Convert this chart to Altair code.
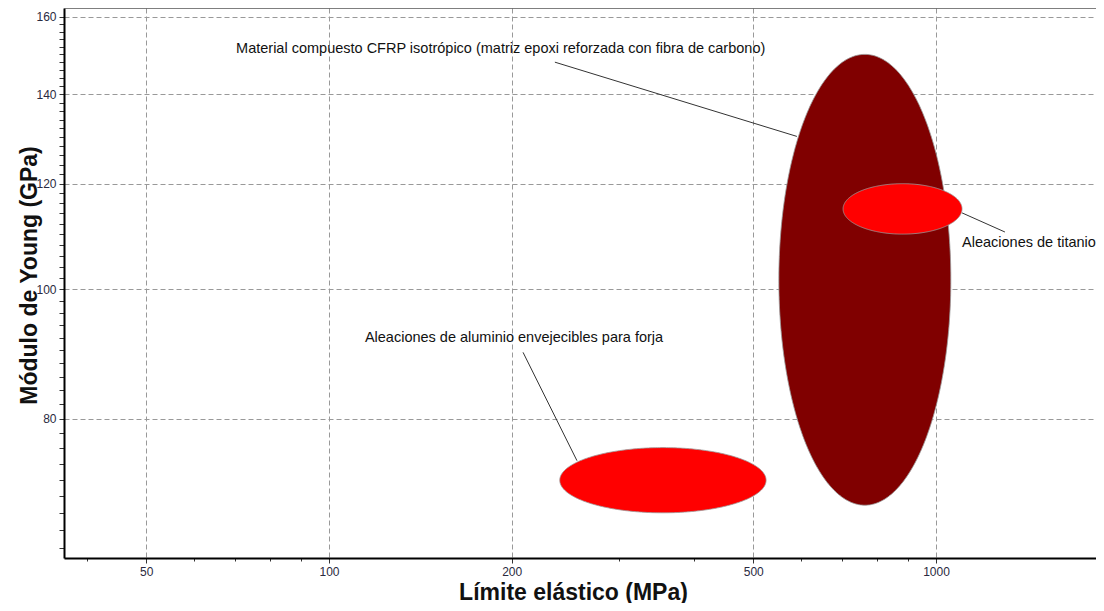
import altair as alt
import numpy as np
import pandas as pd

# --- data -------------------------------------------------------------
materials = [
    "Material compuesto CFRP isotrópico (matriz epoxi reforzada con fibra de carbono)",
    "Aleaciones de titanio",
    "Aleaciones de aluminio envejecibles para forja",
]
colors = ["#800000", "#ff0000", "#ff0000"]
# elastic limit range (MPa) and Young's modulus range (GPa)
x_min = [551, 703, 240]
x_max = [1058, 1104, 525]
y_min = [68.9, 110.0, 68.0]
y_max = [150.0, 120.0, 76.1]

# label anchor positions and leader lines (data coordinates)
label_x = [70.3, 1104, 114.6]
label_y = [151.4, 108.3, 92.0]
lead_x1 = [235.6, 1104, 208.8]
lead_y1 = [148.0, 114.1, 89.7]
lead_x2 = [590, 1299, 256.2]
lead_y2 = [130.2, 110.4, 74.4]

x_major = [50, 100, 200, 500, 1000]
x_minor = [40, 60, 70, 80, 90, 300, 400, 600, 700, 800, 900]
y_major = [80, 100, 120, 140, 160]
y_minor = [v for v in range(64, 162, 2) if v not in y_major]

X_DOMAIN = [36.6, 1835]
Y_DOMAIN = [62.9, 162.5]

# --- ellipse outlines in log space ----------------------------------
theta = np.linspace(np.pi, 0, 181)


def ellipse(i):
    cx = (np.log10(x_min[i]) + np.log10(x_max[i])) / 2
    rx = (np.log10(x_max[i]) - np.log10(x_min[i])) / 2
    cy = (np.log10(y_min[i]) + np.log10(y_max[i])) / 2
    ry = (np.log10(y_max[i]) - np.log10(y_min[i])) / 2
    return pd.DataFrame({
        "x": 10 ** (cx + rx * np.cos(theta)),
        "yhi": 10 ** (cy + ry * np.sin(theta)),
        "ylo": 10 ** (cy - ry * np.sin(theta)),
    })


labels = pd.DataFrame({"material": materials, "x": label_x, "y": label_y})
leads = pd.DataFrame({"x": lead_x1, "y": lead_y1, "x2": lead_x2, "y2": lead_y2})

xticks = sorted(x_major + x_minor)
yticks = sorted(y_major + y_minor)

xmaj = "indexof([50,100,200,500,1000], datum.value) >= 0"
ymaj = "indexof([80,100,120,140,160], datum.value) >= 0"

x_axis = alt.Axis(
    values=xticks,
    format="d",
    labelExpr=f"{xmaj} ? datum.label : ''",
    grid=True,
    gridDash=[5, 3],
    gridColor="#999999",
    gridOpacity={"condition": {"test": xmaj, "value": 1}, "value": 0},
    tickSize={"condition": {"test": xmaj, "value": 5}, "value": 3},
    tickColor="#333333",
    domainColor="#000000",
    domainWidth=2,
    labelFont="Liberation Sans",
    labelFontSize=12,
    labelColor="#2a2a40",
    labelPadding=3,
    title="Límite elástico (MPa)",
    titleFont="Liberation Sans",
    titleFontSize=23,
    titleFontWeight="bold",
    titleColor="#111111",
    titleX=509,
    titleY=41,
    titleBaseline="alphabetic",
)
y_axis = alt.Axis(
    values=yticks,
    format="d",
    labelExpr=f"{ymaj} ? datum.label : ''",
    grid=True,
    gridDash=[5, 3],
    gridColor="#999999",
    gridOpacity={"condition": {"test": ymaj, "value": 1}, "value": 0},
    tickSize=5,
    tickColor="#333333",
    domainColor="#000000",
    domainWidth=2,
    labelFont="Liberation Sans",
    labelFontSize=12,
    labelColor="#2a2a40",
    labelPadding=3,
    title="Módulo de Young (GPa)",
    titleFont="Liberation Sans",
    titleFontSize=23,
    titleFontWeight="bold",
    titleColor="#111111",
    titleX=-28,
    titleY=267,
    titleBaseline="alphabetic",
)

xs = alt.Scale(type="log", domain=X_DOMAIN, nice=False)
ys = alt.Scale(type="log", domain=Y_DOMAIN, nice=False)

layers = []
for i in range(len(materials)):
    layers.append(
        alt.Chart(ellipse(i))
        .mark_area(fill=colors[i], stroke="#9a9a9a", strokeWidth=0.8, opacity=1)
        .encode(
            x=alt.X("x:Q", scale=xs, axis=x_axis),
            y=alt.Y("yhi:Q", scale=ys, axis=y_axis, stack=None),
            y2="ylo:Q",
        )
    )

rules = alt.Chart(leads).mark_rule(color="#333333", strokeWidth=1).encode(
    x="x:Q", y="y:Q", x2="x2:Q", y2="y2:Q"
)

texts = alt.Chart(labels).mark_text(
    align="left", baseline="middle", font="Liberation Sans", fontSize=14.5, color="#111111"
).encode(x="x:Q", y="y:Q", text="material:N")

top_border = alt.Chart(pd.DataFrame({"k": [0]})).mark_rule(
    color="#555555", strokeWidth=1.5
).encode(x=alt.value(0), x2=alt.value(1032), y=alt.value(0))

chart = alt.layer(*layers, rules, texts, top_border).properties(
    width=1032,
    height=550,
    autosize=alt.AutoSizeParams(type="none"),
    padding={"left": 56, "top": 0, "right": 0, "bottom": 45},
).configure_view(strokeWidth=0)

chart.save("out.html", embed_options={"renderer": "svg", "actions": False})
